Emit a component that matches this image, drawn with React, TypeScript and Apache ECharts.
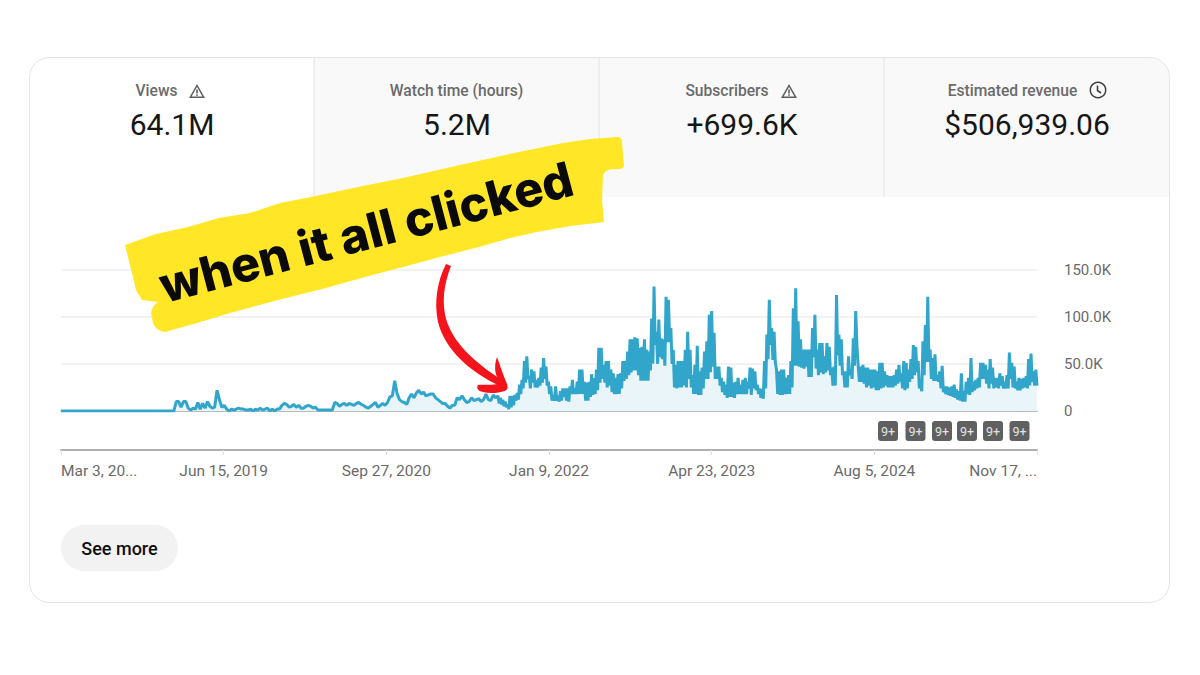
import React, { useEffect, useRef } from "react";
import * as echarts from "echarts";

const tickLabels = ["Mar 3, 20...", "Jun 15, 2019", "Sep 27, 2020", "Jan 9, 2022", "Apr 23, 2023", "Aug 5, 2024", "Nov 17, ..."];
const yLabels = ["0", "50.0K", "100.0K", "150.0K"];
const TICK_DAYS = 470;
const TOTAL_DAYS = 2820;

// weekly views in thousands
const viewsFlat = [0,0,0,0,0,0,0,0,0,0,0,0,0,0,0,0,0,0,0,0,0,0,0,0,0,0,0,0,0,0,0,0,0,0,0,0,0,0,0,0,0,0,0,0,0,0,0];
const viewsEarly = [0,10,10,4,10,10,3,1,3,2,9,2,8,3,10,5,3,4,22,12,4,6,2,0,2,1,2,3,2,2,1,1,2,0,2,1,3,1,2,3,0,2,0,2,2,
  6,8,7,4,5,7,4,6,3,3,5,6,5,3,4,1,1,1,1,1,1,1,9,8,5,7,8,6,8,7,6,8,9,7,6,4,3,5,7,9];
const viewsGrowth = [4,6,8,6,9,15,16,32,18,12,10,9,7,14,18,14,19,22,18,20,16,17,18,18,14,12,10,8,8,5,3,6,6,14,12,16,12,9,10,14,11,12,13,10,12,18,12,11,17,14];

// weekly high and low of the daily views, in thousands, from late 2021 on
const weeklyHigh2021 = [16,14,12,10,7,16,16,17,19,28,33,53,58,37,44,42,33,35,46,56,47,31,26,17,26,16,21,24,24,24,26,33,24,31,44,44,31,30,31,39,35,44,67,67,49,53,53,44,40,35,39,40,53,53];
const weeklyLow2021 = [8,7,5,4,2,4,6,11,12,18,24,30,34,24,30,25,25,27,30,34,27,18,11,11,11,10,11,15,11,10,18,18,18,18,18,18,11,11,15,17,18,22,30,34,30,25,27,20,18,18,18,24,32,34];
const weeklyHigh2023 = [63,76,76,78,77,67,68,76,65,63,98,132,84,97,77,76,121,118,88,65,49,53,53,53,65,84,65,38,49,69,42,46,63,74,102,106,83,47,47,35,31,28,47,46,30,31,35,28,33,35,31,46];
const weeklyLow2023 = [38,41,43,43,38,32,32,32,32,43,50,70,50,57,55,48,73,73,50,25,24,25,25,27,25,34,25,18,18,17,17,24,34,34,41,47,34,34,27,20,17,14,15,15,14,18,18,18,18,18,24,17];
const weeklyHigh2024 = [45,42,28,24,23,53,81,118,88,84,44,42,44,44,35,38,53,109,130,95,76,65,65,65,65,88,102,65,72,72,58,72,68,46,47,123,81,76,42,42,58,44,77,106,49,47,49,46,46,44,44,44];
const weeklyLow2024 = [24,22,18,14,13,24,55,70,54,52,18,17,17,18,18,18,25,48,48,47,46,45,47,36,36,57,45,38,41,39,41,43,38,27,27,59,48,38,25,25,38,34,48,70,31,31,29,25,27,24,25,22];
const weeklyHigh2025 = [42,51,51,42,38,37,37,38,44,49,40,53,51,44,55,70,68,53,31,74,91,121,65,56,60,38,42,48,26,26,25,26,28,23,21,40,21,31,35,56,31,33,35,51,51,49,44,55,46,35,35,40,37,31,38,62,51,47,31,35,34,35,37,55,61,42,44];
const weeklyLow2025 = [22,24,25,27,25,25,25,27,29,31,24,22,24,31,34,38,41,24,21,38,52,52,34,32,32,31,24,20,18,17,16,15,14,12,11,10,10,18,17,20,22,24,25,34,34,29,24,29,24,25,24,27,24,24,24,34,25,24,22,22,24,25,24,27,31,27,27];
const weeklyHigh = [...weeklyHigh2021, ...weeklyHigh2023, ...weeklyHigh2024, ...weeklyHigh2025];
const weeklyLow = [...weeklyLow2021, ...weeklyLow2023, ...weeklyLow2024, ...weeklyLow2025];
const weeklyViews = [...viewsFlat, ...viewsEarly, ...viewsGrowth];

const badgeCenters = [888, 915.5, 942, 967, 993, 1019.5];

const brush = "M125 245 L156 234 L188 227 L219 218 L250 213 L280 203 L311 197 L358 187 L403 178 L460 165 L514 153 L563 143 L590 139 L617 137 Q622 137 622 142 L624 166 Q622 170 616 169 Q606 168 603 175 L602 200 L604 222 L570 226 L537 232 L510 238 L479 247 L440 257 L403 267 L365 277 L326 288 L278 300 L230 313 L197 323 L165 332 Q156 331 153 323 L151 313 Q152 306 158 302 L142 300 L136 290 L133 277 Z";
const arrowBody = "M446 264 L451 266 C 444 284 441 303 447 322 C 456 347 478 364 503 381 L 500 386 C 470 372 445 350 438 322 C 434 302 437 282 446 264 Z";
const arrowHead = "M497 357 C 493 368 496 377 500 383 C 492 386 484 384 478 385 C 476 388 478 391 483 392 C 490 394 498 393 505 391 Q 509 389 507 384 C 503 375 500 365 497 357 Z";
const warn = "M8 1 L16 15 L0 15 Z M8 4 L2.6 13.6 L13.4 13.6 Z M7.2 6.5 L8.8 6.5 L8.8 10.5 L7.2 10.5 Z M7.2 11.2 L8.8 11.2 L8.8 12.8 L7.2 12.8 Z";

echarts.graphic.registerShape("brush", echarts.graphic.extendPath(brush, {}));
echarts.graphic.registerShape("arrowBody", echarts.graphic.extendPath(arrowBody, {}));
echarts.graphic.registerShape("arrowHead", echarts.graphic.extendPath(arrowHead, {}));
echarts.graphic.registerShape("warn", echarts.graphic.extendPath(warn, {}));

const FONT = "Roboto";
const label = (text: string, x: number, y: number) => ({
  type: "text", x, y, z: 5,
  style: { text, fill: "#6a6a6a", font: `500 15.6px ${FONT}`, textAlign: "center", textVerticalAlign: "middle" },
});
const metric = (text: string, x: number, y: number) => ({
  type: "text", x, y, z: 5,
  style: { text, fill: "#161616", font: `400 30px ${FONT}`, textAlign: "center", textVerticalAlign: "middle" },
});

export default function App() {
  const ref = useRef<HTMLDivElement>(null);
  useEffect(() => {
    const chart = echarts.init(ref.current!, undefined, { renderer: "svg" });
    const weeks = weeklyViews.length + weeklyHigh.length;
    const step = TOTAL_DAYS / (weeks - 0.5);
    const points: number[][] = weeklyViews.map((v, i) => [i * step, v]);
    weeklyHigh.forEach((h, i) => {
      const w = weeklyViews.length + i;
      points.push([w * step, h], [(w + 0.5) * step, weeklyLow[i]]);
    });
    chart.setOption({
      animation: false,
      backgroundColor: "#ffffff",
      grid: { left: 61, right: 163, top: 269.5, height: 141.5, containLabel: false },
      xAxis: [
        {
          type: "value", min: 0, max: TOTAL_DAYS, interval: TICK_DAYS, offset: 39, position: "bottom",
          splitLine: { show: false },
          axisLine: { show: true, onZero: false, lineStyle: { color: "#b0b0b0", width: 2 } },
          axisTick: { show: true, length: 5, lineStyle: { color: "#e0e0e0" } },
          axisLabel: {
            margin: 13, color: "#6a6a6a", fontFamily: FONT, fontSize: 15.5, alignMinLabel: "left", alignMaxLabel: "right",
            formatter: (v: number) => tickLabels[Math.round(v / TICK_DAYS)],
          },
        },
        {
          type: "value", min: 0, max: TOTAL_DAYS, position: "bottom",
          splitLine: { show: false }, axisTick: { show: false }, axisLabel: { show: false },
          axisLine: { show: true, onZero: false, lineStyle: { color: "#a8a8a8", width: 1.5 } },
        },
      ],
      yAxis: {
        type: "value", position: "right", min: 0, max: 150, interval: 50,
        axisLine: { show: false }, axisTick: { show: false },
        axisLabel: {
          margin: 27, color: "#6a6a6a", fontFamily: FONT, fontSize: 15, padding: [2, 0, 0, 0],
          formatter: (v: number) => yLabels[v / 50],
        },
        splitLine: { lineStyle: { color: "#eeeeee", width: 1.5 } },
      },
      series: [{
        type: "line", xAxisIndex: 0, showSymbol: false, symbol: "none", z: 3,
        data: points,
        lineStyle: { color: "#31a6ca", width: 3, join: "bevel" },
        areaStyle: { color: "#e9f5f9", opacity: 1 },
      }],
      graphic: [
        { type: "rect", z: -10, shape: { x: 314, y: 58, width: 855, height: 139, r: [0, 20, 0, 0] }, style: { fill: "#f9f9f9" } },
        { type: "rect", z: -9, shape: { x: 29.5, y: 57.5, width: 1140, height: 545, r: 20 }, style: { fill: "none", stroke: "#e4e4e4", lineWidth: 1 } },
        ...[314, 599, 884].map((x) => ({ type: "line", z: -8, shape: { x1: x, y1: 58, x2: x, y2: 197 }, style: { stroke: "#e4e4e4", lineWidth: 1 } })),
        label("Views", 156.5, 91), label("Watch time (hours)", 456.5, 91), label("Subscribers", 727, 91), label("Estimated revenue", 1012.5, 91),
        metric("64.1M", 172, 124.5), metric("5.2M", 457, 124.5), metric("+699.6K", 742, 124.5), metric("$506,939.06", 1027, 124.5),
        { type: "warn", x: 189, y: 83, z: 5, style: { fill: "#606060" } },
        { type: "warn", x: 781, y: 83, z: 5, style: { fill: "#606060" } },
        { type: "circle", z: 5, shape: { cx: 1098, cy: 90, r: 7.7 }, style: { fill: "none", stroke: "#404040", lineWidth: 1.5 } },
        { type: "polyline", z: 5, shape: { points: [[1097.5, 85.5], [1097.5, 90.5], [1101, 93]] }, style: { fill: "none", stroke: "#404040", lineWidth: 1.6 } },
        ...badgeCenters.flatMap((x) => [
          { type: "rect", z: 5, shape: { x: x - 10, y: 421, width: 20, height: 20, r: 3 }, style: { fill: "#606060" } },
          { type: "text", x, y: 431, z: 6, style: { text: "9+", fill: "#e4e4e4", font: `400 12.5px ${FONT}`, textAlign: "center", textVerticalAlign: "middle" } },
        ]),
        { type: "rect", z: 5, shape: { x: 61, y: 525, width: 117, height: 46, r: 23 }, style: { fill: "#f2f2f2" } },
        { type: "text", x: 119.5, y: 548, z: 6, style: { text: "See more", fill: "#0f0f0f", font: `500 18px ${FONT}`, textAlign: "center", textVerticalAlign: "middle" } },
        { type: "brush", z: 20, style: { fill: "#ffe627" } },
        { type: "text", x: 366, y: 232, rotation: (14.8 * Math.PI) / 180, z: 21, style: { text: "when it all clicked", fill: "#0a0a0a", font: `800 48.5px Inter`, textAlign: "center", textVerticalAlign: "middle" } },
        { type: "arrowBody", z: 21, style: { fill: "#f5141c" } },
        { type: "arrowHead", z: 21, style: { fill: "#f5141c" } },
      ],
    });
    return () => chart.dispose();
  }, []);
  return <div ref={ref} style={{ position: "fixed", left: 0, top: 0, width: 1200, height: 675 }} />;
}
